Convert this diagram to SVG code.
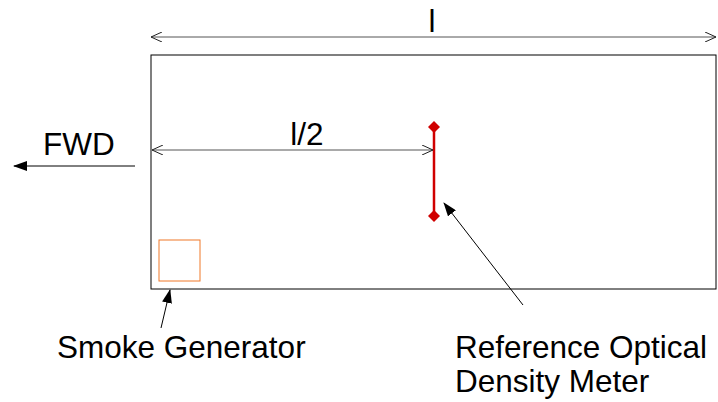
<svg xmlns="http://www.w3.org/2000/svg" width="718" height="402" viewBox="0 0 718 402">
<style>
text{font-family:"Liberation Sans",Arial,sans-serif;font-size:31.5px;fill:#000}
.dim{stroke:#555;stroke-width:1;fill:none}
.ptr{stroke:#000;stroke-width:1;fill:none}
</style>
<defs>
<marker id="open" viewBox="0 0 12 10" refX="11" refY="5" markerWidth="12" markerHeight="10" markerUnits="userSpaceOnUse" orient="auto-start-reverse">
<path d="M0,0 L11,5 L0,10" fill="none" stroke="#222" stroke-width="1"/>
</marker>
<marker id="solid" viewBox="0 0 14 10" refX="13" refY="5" markerWidth="14" markerHeight="10" markerUnits="userSpaceOnUse" orient="auto">
<path d="M0,0 L14,5 L0,10 Z" fill="#000"/>
</marker>
<marker id="dia" viewBox="0 0 12 12" refX="6" refY="6" markerWidth="12" markerHeight="12" markerUnits="userSpaceOnUse">
<path d="M6,0 L12,6 L6,12 L0,6 Z" fill="#d00000"/>
</marker>
</defs>
<g id="enclosure"><rect x="151" y="55" width="565" height="234" fill="none" stroke="#000" stroke-width="1"/></g>
<g id="smoke-generator"><rect x="159" y="240" width="41" height="41" fill="none" stroke="#f07828" stroke-width="1"/></g>
<g id="meter"><line x1="434" y1="127" x2="434" y2="216" stroke="#d00000" stroke-width="2.5" marker-start="url(#dia)" marker-end="url(#dia)"/></g>
<g id="connectors">
<line class="dim" x1="151" y1="37" x2="716" y2="37" marker-start="url(#open)" marker-end="url(#open)"/>
<line class="dim" x1="152" y1="150" x2="433" y2="150" marker-start="url(#open)" marker-end="url(#open)"/>
<line class="ptr" x1="135" y1="166" x2="14" y2="166" marker-end="url(#solid)"/>
<line class="ptr" x1="161" y1="328" x2="170" y2="290" marker-end="url(#solid)"/>
<line class="ptr" x1="523" y1="305" x2="444" y2="203" marker-end="url(#solid)"/>
</g>
<g id="labels">
<text x="432" y="32" text-anchor="middle">l</text>
<text x="307" y="145" text-anchor="middle">l/2</text>
<text x="43" y="155">FWD</text>
<text x="57" y="358">Smoke Generator</text>
<text x="455" y="358">Reference Optical</text>
<text x="455" y="392">Density Meter</text>
</g>
</svg>
